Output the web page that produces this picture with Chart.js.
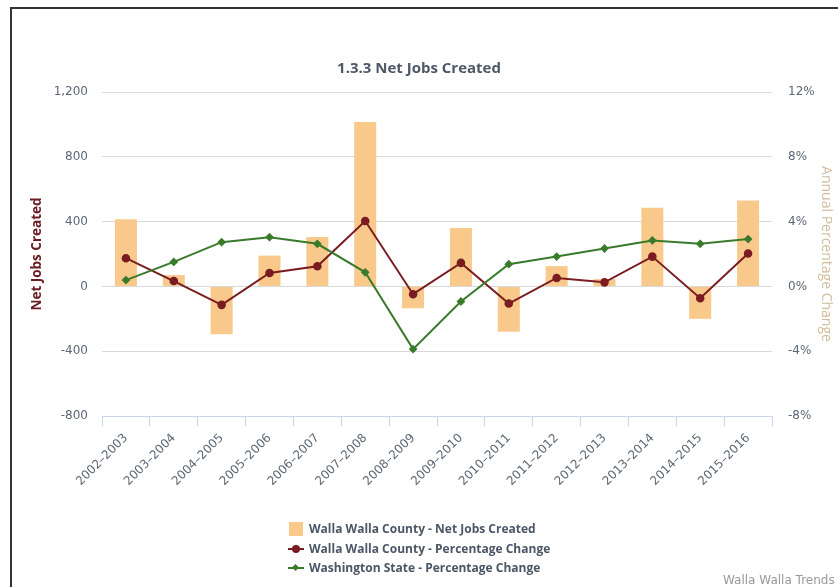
<!DOCTYPE html>
<html>
<head>
<meta charset="utf-8">
<script src="https://cdn.jsdelivr.net/npm/chart.js@4.4.1/dist/chart.umd.min.js"></script>
<style>
  html, body { margin: 0; padding: 0; background: #fff; overflow: hidden; }
  #wrap { position: relative; width: 838px; height: 587px; overflow: hidden; }
  #frame { position: absolute; left: 10px; top: 7px; width: 900px; height: 700px;
    border-top: 2px solid #333; border-left: 2px solid #333; }
  #chart { position: absolute; left: 0; top: 0; }
  #legend { position: absolute; left: 288px; top: 519px; font-family: "Open Sans", sans-serif;
    font-weight: bold; font-size: 12px; color: #4b5666; }
  #legend .row { height: 19.5px; line-height: 19.5px; white-space: nowrap; position: relative; padding-left: 21px; }
  #legend .box { position: absolute; left: 1px; top: 3px; width: 14px; height: 14px; }
  #legend .ln { position: absolute; left: 0; top: 9px; width: 16px; height: 2px; }
  #legend .dot { position: absolute; left: 4px; top: 6px; width: 8px; height: 8px; border-radius: 50%; }
  #legend .dia { position: absolute; left: 5px; top: 7px; width: 5px; height: 5px; transform: rotate(45deg); }
  #credit { position: absolute; left: 723px; top: 573px; font-family: "DejaVu Sans", sans-serif;
    font-size: 12px; color: #999; white-space: nowrap; }
</style>
</head>
<body>
<div id="wrap">
  <div id="frame"></div>
  <canvas id="chart" width="838" height="587"></canvas>
  <div id="legend"></div>
  <div id="credit">Walla Walla Trends</div>
</div>
<script>
const years = ["2002–2003", "2003–2004", "2004–2005", "2005–2006", "2006–2007", "2007–2008", "2008–2009",
  "2009–2010", "2010–2011", "2011–2012", "2012–2013", "2013–2014", "2014–2015", "2015–2016"];
const netJobs = [415, 70, -295, 190, 305, 1015, -135, 360, -280, 125, 45, 485, -200, 530];
const countyPct = [1.74, 0.33, -1.14, 0.83, 1.24, 4.04, -0.48, 1.45, -1.06, 0.52, 0.25, 1.84, -0.73, 2.03];
const statePct = [0.39, 1.51, 2.73, 3.04, 2.63, 0.87, -3.87, -0.93, 1.37, 1.84, 2.34, 2.84, 2.63, 2.92];
const jobTicks = [-800, -400, 0, 400, 800, 1200];
const pctTicks = [-8, -4, 0, 4, 8, 12];

const orange = "#f8c98b";
const maroon = "#7a1c21";
const green = "#3a7b2b";
const tickColor = "#5d6876";

// legend built as html so the rows stack like the original
const htmlLegend = {
  id: "htmlLegend",
  afterUpdate(chart) {
    const el = document.getElementById("legend");
    el.innerHTML = "";
    chart.data.datasets.forEach((ds) => {
      const row = document.createElement("div");
      row.className = "row";
      if (ds.type === "bar") {
        const b = document.createElement("span");
        b.className = "box";
        b.style.background = ds.backgroundColor;
        row.appendChild(b);
      } else {
        const l = document.createElement("span");
        l.className = "ln";
        l.style.background = ds.borderColor;
        row.appendChild(l);
        const m = document.createElement("span");
        m.className = ds.pointStyle === "rectRot" ? "dia" : "dot";
        m.style.background = ds.borderColor;
        row.appendChild(m);
      }
      row.appendChild(document.createTextNode(ds.label));
      el.appendChild(row);
    });
  }
};

new Chart(document.getElementById("chart"), {
  data: {
    labels: years,
    datasets: [
      {
        type: "bar",
        label: "Walla Walla County - Net Jobs Created",
        data: netJobs,
        yAxisID: "y",
        backgroundColor: orange,
        barPercentage: 0.46,
        categoryPercentage: 1,
        order: 3
      },
      {
        type: "line",
        label: "Walla Walla County - Percentage Change",
        data: countyPct,
        yAxisID: "y1",
        borderColor: maroon,
        backgroundColor: maroon,
        borderWidth: 2,
        pointRadius: 3.3,
        pointStyle: "circle",
        tension: 0,
        order: 2
      },
      {
        type: "line",
        label: "Washington State - Percentage Change",
        data: statePct,
        yAxisID: "y1",
        borderColor: green,
        backgroundColor: green,
        borderWidth: 2,
        pointRadius: 3,
        pointStyle: "rectRot",
        tension: 0,
        order: 1
      }
    ]
  },
  options: {
    responsive: false,
    animation: false,
    devicePixelRatio: 1,
    layout: { padding: { left: 0, right: 0, top: 0, bottom: 71 } },
    plugins: {
      legend: { display: false },
      tooltip: { enabled: false },
      title: {
        display: true,
        text: "1.3.3 Net Jobs Created",
        color: "#4d5967",
        font: { family: "Open Sans", size: 15, weight: "bold", lineHeight: 1.2 },
        padding: { top: 60, bottom: 14 }
      }
    },
    scales: {
      x: {
        offset: true,
        grid: { offset: true, drawOnChartArea: false, drawTicks: true, tickLength: 10, color: "#ccd6eb" },
        border: { display: true, color: "#ccd6eb" },
        ticks: {
          color: tickColor,
          maxRotation: 45,
          minRotation: 45,
          autoSkip: false,
          padding: 5,
          font: { family: "DejaVu Sans", size: 12 }
        },
        afterFit(scale) { scale.height = 100; }
      },
      y: {
        position: "left",
        min: -800,
        max: 1200,
        afterBuildTicks(scale) { scale.ticks = jobTicks.map((v) => ({ value: v })); },
        grid: { color: "#d9d9d9", drawTicks: false },
        border: { display: false },
        ticks: {
          color: tickColor,
          padding: 14,
          font: { family: "DejaVu Sans", size: 12 },
          callback: (v) => v.toLocaleString("en-US")
        },
        title: {
          display: true,
          text: "Net Jobs Created",
          color: "#6b1d24",
          font: { family: "Open Sans", size: 13.5, weight: "bold", lineHeight: 1.2 },
          padding: { top: 29, bottom: 0 }
        },
        afterFit(scale) { scale.width = 102; }
      },
      y1: {
        position: "right",
        min: -8,
        max: 12,
        afterBuildTicks(scale) { scale.ticks = pctTicks.map((v) => ({ value: v })); },
        grid: { drawOnChartArea: false, drawTicks: false },
        border: { display: false },
        ticks: {
          color: tickColor,
          padding: 16,
          font: { family: "DejaVu Sans", size: 12 },
          callback: (v) => v + "%"
        },
        title: {
          display: true,
          text: "Annual Percentage Change",
          color: "#d3bc9c",
          font: { family: "Open Sans", size: 14, lineHeight: 1.2 },
          padding: { top: 4, bottom: 0 }
        },
        afterFit(scale) { scale.width = 66; }
      }
    }
  },
  plugins: [htmlLegend]
});
</script>
</body>
</html>
